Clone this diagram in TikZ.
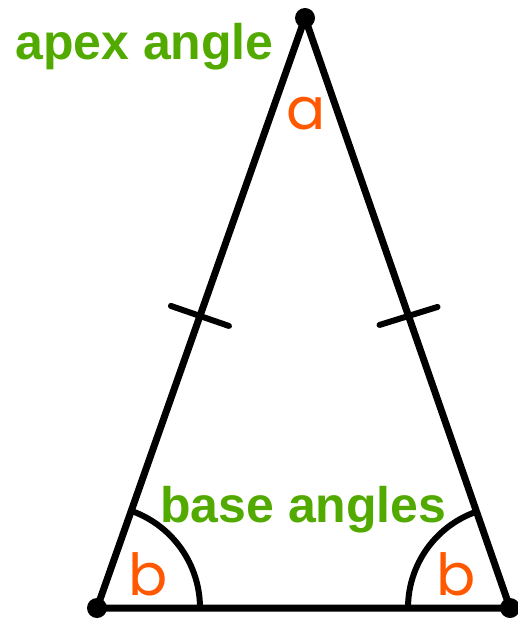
\documentclass[tikz,border=0pt]{standalone}
\usepackage{fontspec}
\setmainfont{Liberation Sans}
\newfontfamily\handfont{Poppins}
\usetikzlibrary{calc, angles}
\definecolor{labelgreen}{RGB}{82,170,0}
\definecolor{angleorange}{RGB}{255,88,0}

\begin{document}
\begin{tikzpicture}[
    x=1pt, y=-1pt,
    side/.style={line width=7pt, line cap=round, line join=round},
    tick/.style={line width=6pt, line cap=round},
    vertex/.style={fill=black},
    greentext/.style={inner sep=0pt, text=labelgreen, font=\bfseries\fontsize{50}{60}\selectfont},
    angletext/.style={inner sep=0pt, anchor=base, text=angleorange, font=\handfont\fontsize{58}{70}\selectfont},
]
\useasboundingbox (0,0) rectangle (518,620);

% Vertices
\coordinate (apex)  at (305,18);
\coordinate (left)  at (97,608);
\coordinate (right) at (510,608);

% Triangle
\draw[side] (left) -- (apex) -- (right) -- cycle;
\foreach \v in {apex, left, right}
    \fill[vertex] (\v) circle[radius=10pt];

% Equal-side ticks
\coordinate (tickl) at ($(left)!0.495!(apex)$);
\coordinate (tickr) at ($(right)!0.495!(apex)$);
\draw[tick] ([shift={(-29,-10)}]tickl) -- ([shift={(29,10)}]tickl);
\draw[tick] ([shift={(-29,9)}]tickr) -- ([shift={(29,-9)}]tickr);

% Base angle arcs
\pic[draw, line width=6pt, angle radius=103pt] {angle=right--left--apex};
\pic[draw, line width=6pt, angle radius=102pt] {angle=apex--right--left};

% Labels
\node[greentext, anchor=base west] (apexlabel) at (15,60) {apex angle};
\node[greentext, anchor=base west] (baselabel) at (160,522) {base angles};
\node[angletext] (anglea)  at (306,130) {a};
\node[angletext] (angleb1) at (148,595) {b};
\node[angletext] (angleb2) at (456,595) {b};

\end{tikzpicture}
\end{document}
